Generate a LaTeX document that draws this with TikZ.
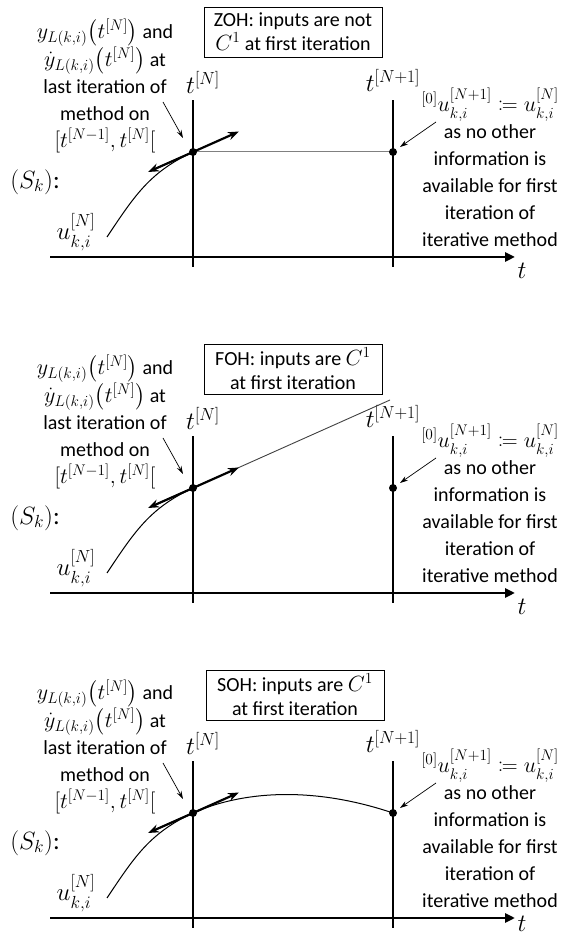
\RequirePackage{fix-cm}
\documentclass[tikz,border=0pt]{standalone}
\usepackage{amsmath,amssymb,mathtools}
\usepackage{fontspec}
\setmainfont{Carlito}
\usetikzlibrary{arrows.meta,calc,positioning}
\newcommand{\lgm}[1]{{\fontsize{22}{27}\selectfont$#1$}}

\begin{document}
\begin{tikzpicture}[x=1pt,y=1pt,
  txt/.style={font=\fontsize{20}{27}\selectfont, align=center, inner sep=0pt},
  tlab/.style={font=\fontsize{25}{28}\selectfont, inner sep=0pt},
  holdbox/.style={draw, line width=0.8pt, minimum width=178pt, minimum height=50pt,
    align=center, inner sep=0pt, font=\fontsize{20}{24}\selectfont},
  axisline/.style={line width=2.5pt, -{Triangle[length=10pt,width=9pt]}},
  tline/.style={line width=2.5pt},
  tangent/.style={line width=2.2pt, -{Stealth[length=11pt,width=8pt]}},
  pointer/.style={line width=0.7pt, -{Stealth[length=8pt,width=5pt]}},
  dot/.style={circle, fill, inner sep=0pt, minimum size=8pt}]
  \useasboundingbox (0,0) rectangle (563,938);
  % ZOH
  \begin{scope}[shift={(0,681)}]
    \node[holdbox] (zoh) at (293,225) {ZOH: inputs are not\\\lgm{C^1} at first iteration};
    \node[txt] (last) at (105,171) {\lgm{y_{L(k,i)}\bigl(t^{[N]}\bigr)} and\\\lgm{\dot{y}_{L(k,i)}\bigl(t^{[N]}\bigr)} at\\last iteration of\\method on\\\lgm{[t^{[N-1]},t^{[N]}[}};
    \node[tlab] (tN) at (203,175) {$t^{[N]}$};
    \node[tlab] (tN1) at (393,177) {$t^{[N+1]}$};
    \draw[axisline] (50,0) -- (515,0);
    \node[tlab] (t) at (522,-14) {$t$};
    \draw[tline] (193,-10) -- (193,157);
    \draw[tline] (393,-10) -- (393,157);
    \coordinate (pN) at (193,105);
    \coordinate (pN1) at (393,105);
    \draw[gray, line width=1pt] (pN) -- (pN1);
    \draw[line width=1pt] (107,20) .. controls (135,62) and (150,85) .. (pN);
    \draw[tangent] (pN) -- ++(46,20.5);
    \draw[tangent] (pN) -- ++(-45,-20);
    \node[dot] (dN) at (pN) {};
    \node[dot] (dN1) at (pN1) {};
    \node[tlab] (sk) at (35,75) {$(S_k)$:};
    \node[tlab] (u) at (76,25) {$u_{k,i}^{[N]}$};
    \node[txt] (init) at (490,89.5) {\lgm{{}^{[0]}u_{k,i}^{[N+1]}\coloneqq u_{k,i}^{[N]}}\\as no other\\information is\\available for first\\iteration of\\iterative method};
    \coordinate (fromlast) at (163,155);
    \coordinate (frominit) at (436,135);
    \draw[pointer] (fromlast) -- ($(dN)+(-10,14)$);
    \draw[pointer] (frominit) -- ($(dN1)+(7,5)$);
  \end{scope}
  % FOH
  \begin{scope}[shift={(0,345)}]
    \node[holdbox] (foh) at (293,224) {FOH: inputs are \lgm{C^1}\\at first iteration};
    \node[txt] (last) at (105,171) {\lgm{y_{L(k,i)}\bigl(t^{[N]}\bigr)} and\\\lgm{\dot{y}_{L(k,i)}\bigl(t^{[N]}\bigr)} at\\last iteration of\\method on\\\lgm{[t^{[N-1]},t^{[N]}[}};
    \node[tlab] (tN) at (203,175) {$t^{[N]}$};
    \node[tlab] (tN1) at (393,177) {$t^{[N+1]}$};
    \draw[axisline] (50,0) -- (515,0);
    \node[tlab] (t) at (522,-14) {$t$};
    \draw[tline] (193,-10) -- (193,157);
    \draw[tline] (393,-10) -- (393,157);
    \coordinate (pN) at (193,105);
    \coordinate (pN1) at (393,105);
    \draw[black!75, line width=0.9pt] (pN) -- (390,193);
    \draw[line width=1pt] (107,20) .. controls (135,62) and (150,85) .. (pN);
    \draw[tangent] (pN) -- ++(46,20.5);
    \draw[tangent] (pN) -- ++(-45,-20);
    \node[dot] (dN) at (pN) {};
    \node[dot] (dN1) at (pN1) {};
    \node[tlab] (sk) at (35,75) {$(S_k)$:};
    \node[tlab] (u) at (76,25) {$u_{k,i}^{[N]}$};
    \node[txt] (init) at (490,89.5) {\lgm{{}^{[0]}u_{k,i}^{[N+1]}\coloneqq u_{k,i}^{[N]}}\\as no other\\information is\\available for first\\iteration of\\iterative method};
    \coordinate (fromlast) at (163,155);
    \coordinate (frominit) at (436,135);
    \draw[pointer] (fromlast) -- ($(dN)+(-10,14)$);
    \draw[pointer] (frominit) -- ($(dN1)+(7,5)$);
  \end{scope}
  % SOH
  \begin{scope}[shift={(0,20)}]
    \node[holdbox] (soh) at (295,223) {SOH: inputs are \lgm{C^1}\\at first iteration};
    \node[txt] (last) at (105,171) {\lgm{y_{L(k,i)}\bigl(t^{[N]}\bigr)} and\\\lgm{\dot{y}_{L(k,i)}\bigl(t^{[N]}\bigr)} at\\last iteration of\\method on\\\lgm{[t^{[N-1]},t^{[N]}[}};
    \node[tlab] (tN) at (203,175) {$t^{[N]}$};
    \node[tlab] (tN1) at (393,177) {$t^{[N+1]}$};
    \draw[axisline] (50,0) -- (515,0);
    \node[tlab] (t) at (522,-6) {$t$};
    \draw[tline] (193,-10) -- (193,157);
    \draw[tline] (393,-10) -- (393,157);
    \coordinate (pN) at (193,105);
    \coordinate (pN1) at (393,105);
    \draw[line width=1pt] (pN) .. controls (240,126) and (310,133) .. (pN1);
    \draw[line width=1pt] (107,20) .. controls (135,62) and (150,85) .. (pN);
    \draw[tangent] (pN) -- ++(46,20.5);
    \draw[tangent] (pN) -- ++(-45,-20);
    \node[dot] (dN) at (pN) {};
    \node[dot] (dN1) at (pN1) {};
    \node[tlab] (sk) at (35,75) {$(S_k)$:};
    \node[tlab] (u) at (76,25) {$u_{k,i}^{[N]}$};
    \node[txt] (init) at (490,89.5) {\lgm{{}^{[0]}u_{k,i}^{[N+1]}\coloneqq u_{k,i}^{[N]}}\\as no other\\information is\\available for first\\iteration of\\iterative method};
    \coordinate (fromlast) at (163,155);
    \coordinate (frominit) at (436,135);
    \draw[pointer] (fromlast) -- ($(dN)+(-10,14)$);
    \draw[pointer] (frominit) -- ($(dN1)+(7,5)$);
  \end{scope}
\end{tikzpicture}
\end{document}
